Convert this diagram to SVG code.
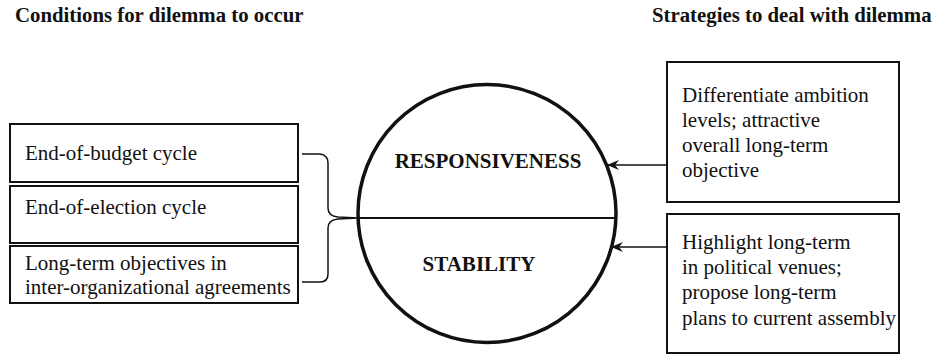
<svg xmlns="http://www.w3.org/2000/svg" width="942" height="355" viewBox="0 0 942 355">
<style>
text{font-family:"Liberation Serif","DejaVu Serif",serif;fill:#111}
.title{font-weight:bold;font-size:20.8px}
.txt{font-size:21px}
.lbl{font-weight:bold;font-size:21px}
.box{fill:#fff;stroke:#111;stroke-width:2}
.conn{fill:none;stroke:#111;stroke-width:1.5}
</style>
<defs>
<marker id="arr" markerWidth="12" markerHeight="10" refX="11" refY="5" orient="auto" markerUnits="userSpaceOnUse">
<path d="M0,0 L12,5 L0,10 L4,5 Z" fill="#111"/>
</marker>
</defs>
<rect width="942" height="355" fill="#fff"/>
<text class="title" x="15" y="22">Conditions for dilemma to occur</text>
<text class="title" x="652" y="22">Strategies to deal with dilemma</text>

<g id="cond1"><rect class="box" x="10" y="124" width="288" height="58"/><text class="txt" x="25" y="160">End-of-budget cycle</text></g>
<g id="cond2"><rect class="box" x="10" y="186" width="288" height="57"/><text class="txt" x="25" y="214">End-of-election cycle</text></g>
<g id="cond3"><rect class="box" x="10" y="246" width="288" height="57"/><text class="txt" x="25" y="270">Long-term objectives in</text><text class="txt" x="25" y="294">inter-organizational agreements</text></g>

<g id="dilemma">
<circle cx="487" cy="213.5" r="129" fill="#fff" stroke="#111" stroke-width="3.5"/>
<line x1="358" y1="218" x2="616" y2="218" stroke="#111" stroke-width="2"/>
<text class="lbl" x="488" y="168" text-anchor="middle">RESPONSIVENESS</text>
<text class="lbl" x="479" y="271" text-anchor="middle">STABILITY</text>
</g>

<g id="strat1"><rect class="box" x="667" y="62" width="232" height="140"/>
<text class="txt" x="682" y="102">Differentiate ambition</text>
<text class="txt" x="682" y="127">levels; attractive</text>
<text class="txt" x="682" y="152">overall long-term</text>
<text class="txt" x="682" y="177">objective</text></g>
<g id="strat2"><rect class="box" x="667" y="214" width="232" height="139"/>
<text class="txt" x="682" y="249">Highlight long-term</text>
<text class="txt" x="682" y="274">in political venues;</text>
<text class="txt" x="682" y="299">propose long-term</text>
<text class="txt" x="682" y="325">plans to current assembly</text></g>

<g id="connectors">
<path class="conn" d="M302,154 L320,154 Q328,155 328,163 L328,208 Q328,216 338,217 L358,218 M358,218 L338,219 Q328,220 328,228 L328,274 Q328,282 320,282 L302,282"/>
<line class="conn" x1="667" y1="165" x2="608" y2="165" marker-end="url(#arr)"/>
<line class="conn" x1="667" y1="247" x2="612" y2="247" marker-end="url(#arr)"/>
</g>
</svg>
